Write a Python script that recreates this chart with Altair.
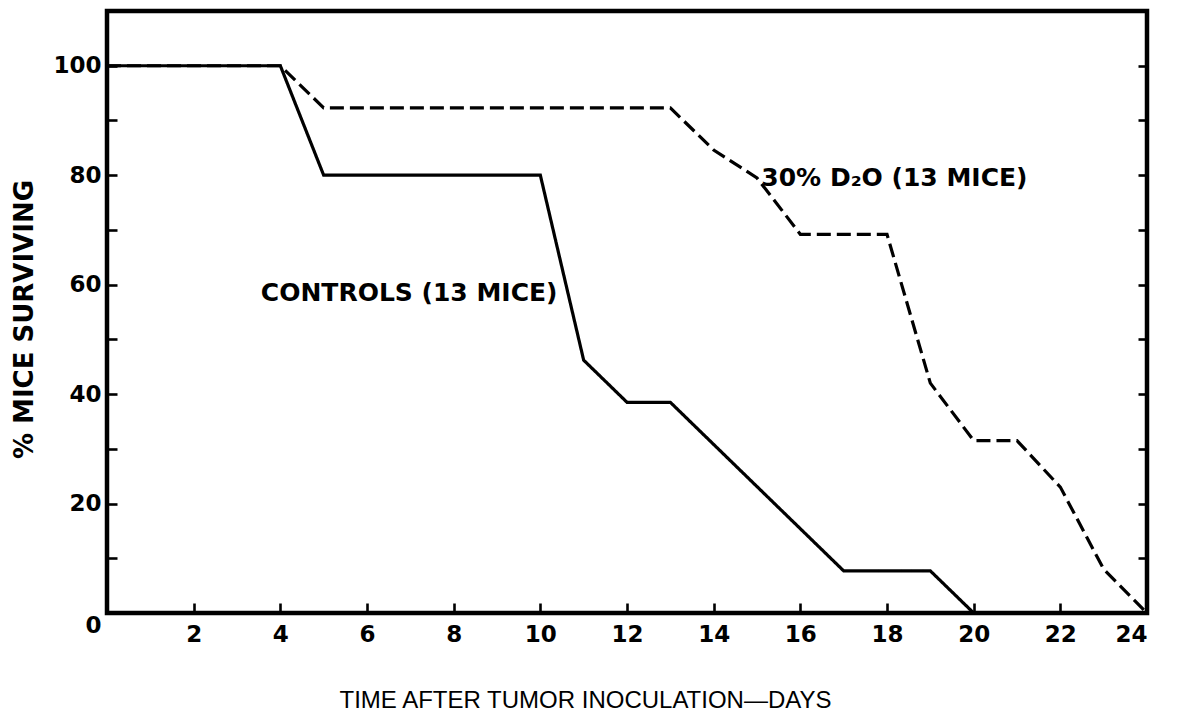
import altair as alt
import pandas as pd

# ---- data ----
ctrl_days = [0, 4, 5, 10, 11, 12, 13, 17, 19, 20]
ctrl_surv = [100, 100, 80, 80, 46.2, 38.5, 38.5, 7.7, 7.7, 0]
d2o_days = [0, 4, 5, 13, 14, 15, 16, 18, 19, 20, 21, 22, 23, 24]
d2o_surv = [100, 100, 92.3, 92.3, 84.6, 79.5, 69.2, 69.2, 42, 31.5, 31.5, 23, 8, 0]
series_names = ["CONTROLS (13 MICE)", "30% D₂O (13 MICE)"]
x_ticks = list(range(0, 25, 2))
y_ticks = list(range(0, 111, 10))
x_title = "TIME AFTER TUMOR INOCULATION—DAYS"
y_title = "% MICE SURVIVING"

df = pd.concat([
    pd.DataFrame({"day": ctrl_days, "surv": ctrl_surv, "series": series_names[0], "ord": range(len(ctrl_days))}),
    pd.DataFrame({"day": d2o_days, "surv": d2o_surv, "series": series_names[1], "ord": range(len(d2o_days))}),
])
one_row = pd.DataFrame({"k": [0]})

FONT = "DejaVu Sans"
W, H = 1040, 602

xscale = alt.Scale(domain=[0, 24], nice=False, zero=True)
yscale = alt.Scale(domain=[0, 110], nice=False, zero=True)

x_axis = alt.Axis(
    values=x_ticks,
    labelExpr="datum.value == 0 ? '' : datum.label",
    tickSize=alt.ExprRef(expr="-10"),
    labelPadding=20,
    title=x_title,
    titleFont="Liberation Sans",
    titleFontWeight="normal",
    titleFontSize=24,
    titleX=478,
    titleY=87,
    titleBaseline="middle",
    titleAnchor="middle",
    titleAlign="center",
)
y_axis_left = alt.Axis(
    values=y_ticks,
    labelExpr="(datum.value % 20 == 0 && datum.value <= 100) ? datum.label : ''",
    tickSize=alt.ExprRef(expr="-10"),
    labelPadding=16,
    labelOffset={"condition": {"test": "datum.value == 0", "value": 12}, "value": 0},
    title=y_title,
    titleFont=FONT,
    titleFontWeight="bold",
    titleFontSize=26,
    titleX=-83,
    titleY=308,
    titleAngle=-90,
    titleBaseline="middle",
    titleAlign="center",
)
y_axis_right = alt.Axis(
    orient="right",
    values=y_ticks,
    labels=False,
    tickSize=alt.ExprRef(expr="-9"),
    title=None,
)

lines = alt.Chart(df).mark_line(color="black", strokeWidth=3.2, strokeJoin="miter").encode(
    x=alt.X("day:Q", scale=xscale, axis=x_axis),
    y=alt.Y("surv:Q", scale=yscale, axis=y_axis_left),
    strokeDash=alt.StrokeDash(
        "series:N",
        scale=alt.Scale(domain=series_names, range=[[1, 0], [14, 6]]),
        legend=None,
    ),
    detail="series:N",
    order="ord:Q",
)

right_axis_layer = alt.Chart(df).mark_line(opacity=0).encode(
    x=alt.X("day:Q", scale=xscale, axis=x_axis),
    y=alt.Y("surv:Q", scale=yscale, axis=y_axis_right),
    detail="series:N",
)

lab1 = alt.Chart(one_row).mark_text(
    text=series_names[0], align="left", baseline="middle",
    font=FONT, fontWeight="bold", fontSize=25, color="black",
).encode(
    x=alt.XDatum(3.55, scale=xscale, axis=x_axis),
    y=alt.YDatum(58.5, scale=yscale, axis=None),
)
lab2 = alt.Chart(one_row).mark_text(
    text=series_names[1], align="left", baseline="middle",
    font=FONT, fontWeight="bold", fontSize=25, color="black",
).encode(
    x=alt.XDatum(15.1, scale=xscale, axis=x_axis),
    y=alt.YDatum(79.5, scale=yscale, axis=None),
)

chart = alt.layer(lines, right_axis_layer, lab1, lab2).resolve_axis(
    y="independent"
).properties(
    width=W,
    height=H,
    autosize=alt.AutoSizeParams(type="none"),
    padding={"left": 99, "top": 3, "right": 22, "bottom": 99},
    background="white",
).configure_view(
    stroke="black", strokeWidth=4.5
).configure_axis(
    domain=False,
    grid=False,
    tickColor="black",
    tickWidth=2.6,
    labelColor="black",
    labelFont=FONT,
    labelFontWeight="bold",
    labelFontSize=23,
    titleColor="black",
)

chart.save("out.html", embed_options={"renderer": "svg", "actions": False})
